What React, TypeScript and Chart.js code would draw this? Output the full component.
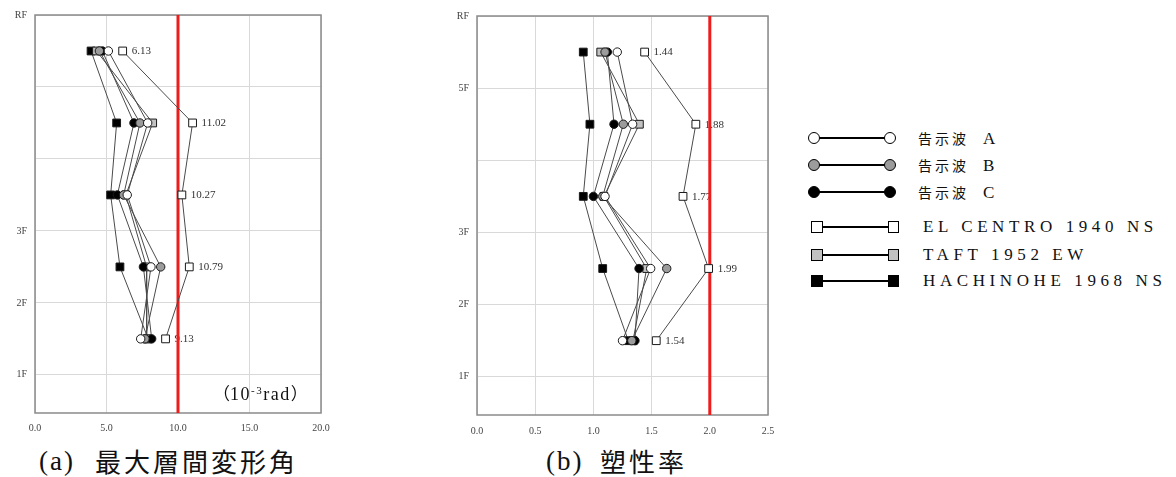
import React, { useEffect, useRef } from "react";
import { Chart, registerables } from "chart.js";

Chart.register(...registerables);

// ---------------- data ----------------
const SERIES_NAMES = [
  "告示波 A",
  "告示波 B",
  "告示波 C",
  "EL CENTRO 1940 NS",
  "TAFT 1952 EW",
  "HACHINOHE 1968 NS",
];

// story mid-heights (5F, 4F, 3F, 2F, 1F)
const STORY_Y = [5.5, 4.5, 3.5, 2.5, 1.5];

const FLOOR_TICKS = [1, 2, 3, 4, 5, 6];
const FLOOR_LABELS_A = ["1F", "2F", "3F", "", "", "RF"];
const FLOOR_LABELS_B = ["1F", "2F", "3F", "", "5F", "RF"];

// (a) max story drift angle (10^-3 rad)
const DRIFT_A = [5.13, 7.88, 6.45, 8.11, 7.39];
const DRIFT_B = [4.5, 7.34, 6.2, 8.79, 7.69];
const DRIFT_C = [4.71, 6.92, 5.76, 7.58, 8.16];
const DRIFT_ELCENTRO = [6.13, 11.02, 10.27, 10.79, 9.13];
const DRIFT_TAFT = [4.3, 8.23, 6.35, 7.8, 7.81];
const DRIFT_HACHINOHE = [3.92, 5.71, 5.29, 5.94, 7.92];
const DRIFT_X_TICKS = [0, 5, 10, 15, 20];
const DRIFT_LIMIT = 10;

// (b) ductility factor
const DUCT_A = [1.205, 1.337, 1.1, 1.492, 1.25];
const DUCT_B = [1.1, 1.257, 1.08, 1.63, 1.33];
const DUCT_C = [1.12, 1.177, 1.0, 1.392, 1.357];
const DUCT_ELCENTRO = [1.44, 1.88, 1.77, 1.99, 1.54];
const DUCT_TAFT = [1.063, 1.395, 1.09, 1.458, 1.34];
const DUCT_HACHINOHE = [0.913, 0.97, 0.913, 1.08, 1.3];
const DUCT_X_TICKS = [0, 0.5, 1.0, 1.5, 2.0, 2.5];
const DUCT_LIMIT = 2.0;

const LABELED_SERIES = 3; // EL CENTRO values are annotated

// ---------------- styles ----------------
const SERIES_STYLES = [
  { shape: "circle", fill: "#ffffff" },
  { shape: "circle", fill: "#9c9c9c" },
  { shape: "circle", fill: "#000000" },
  { shape: "rect", fill: "#ffffff" },
  { shape: "rect", fill: "#c2c2c2" },
  { shape: "rect", fill: "#000000" },
];

const SERIF = '"Liberation Serif", "Times New Roman", serif';
const CJK = '"Noto Sans CJK JP", "Noto Sans CJK SC", sans-serif';

type PanelProps = {
  series: number[][];
  xTicks: number[];
  yLabels: string[];
  limit: number;
  left: number;
  width: number;
  height: number;
  yAxisW: number;
  padTop: number;
  padRight: number;
  xAxisH: number;
  xPad: number;
};

const framePlugin = {
  id: "framePlugin",
  beforeDatasetsDraw(chart: any, _args: any, opts: any) {
    const { ctx, chartArea: a, scales } = chart;
    ctx.save();
    // frame
    ctx.strokeStyle = "#8a8a8a";
    ctx.lineWidth = 1.5;
    ctx.strokeRect(a.left, a.top, a.right - a.left, a.bottom - a.top);
    // value labels
    const ds = chart.data.datasets[opts.labelIdx];
    ctx.fillStyle = "#333";
    ctx.font = `11px ${SERIF}`;
    ctx.textAlign = "left";
    ctx.textBaseline = "middle";
    ds.data.forEach((p: any) => {
      const px = scales.x.getPixelForValue(p.x);
      const py = scales.y.getPixelForValue(p.y);
      ctx.fillText(p.x.toFixed(2), px + 9, py + 0.5);
    });
    // limit line
    const lx = scales.x.getPixelForValue(opts.limit);
    ctx.strokeStyle = "#ee1c1c";
    ctx.lineWidth = 3;
    ctx.beginPath();
    ctx.moveTo(lx, a.top);
    ctx.lineTo(lx, a.bottom);
    ctx.stroke();
    ctx.restore();
  },
};

function Panel(p: PanelProps) {
  const ref = useRef<HTMLCanvasElement | null>(null);
  useEffect(() => {
    if (!ref.current) return;
    const tickFont = { family: SERIF, size: 10 };
    const chart = new Chart(ref.current, {
      type: "scatter",
      data: {
        datasets: p.series.map((vals, k) => ({
          label: SERIES_NAMES[k],
          data: vals.map((v, i) => ({ x: v, y: STORY_Y[i] })),
          showLine: true,
          borderColor: "#4a4a4a",
          borderWidth: 1,
          tension: 0,
          pointStyle: SERIES_STYLES[k].shape as any,
          pointRadius: SERIES_STYLES[k].shape === "rect" ? 5.5 : 4.2,
          pointBackgroundColor: SERIES_STYLES[k].fill,
          pointBorderColor: "#1a1a1a",
          pointBorderWidth: 1,
        })),
      },
      options: {
        animation: false,
        responsive: false,
        events: [],
        layout: { padding: { top: p.padTop, right: p.padRight, left: 0, bottom: 0 } },
        plugins: {
          legend: { display: false },
          tooltip: { enabled: false },
          framePlugin: { limit: p.limit, labelIdx: LABELED_SERIES },
        } as any,
        scales: {
          x: {
            type: "linear",
            min: p.xTicks[0],
            max: p.xTicks[p.xTicks.length - 1],
            afterBuildTicks: (s: any) => {
              s.ticks = p.xTicks.map((v) => ({ value: v }));
            },
            afterFit: (s: any) => {
              s.height = p.xAxisH;
            },
            ticks: {
              autoSkip: false,
              maxRotation: 0,
              padding: p.xPad,
              font: tickFont,
              color: "#444",
              callback: (v: any) => Number(v).toFixed(1),
            },
            grid: { color: "#d9d9d9", lineWidth: 1, drawTicks: false },
            border: { display: false },
          },
          y: {
            type: "linear",
            min: 0.47,
            max: 6,
            afterBuildTicks: (s: any) => {
              s.ticks = FLOOR_TICKS.map((v) => ({ value: v }));
            },
            afterFit: (s: any) => {
              s.width = p.yAxisW;
            },
            ticks: {
              autoSkip: false,
              padding: 8,
              font: tickFont,
              color: "#444",
              callback: (v: any) => {
                const i = FLOOR_TICKS.indexOf(Number(v));
                return i >= 0 ? p.yLabels[i] : "";
              },
            },
            grid: { color: "#d9d9d9", lineWidth: 1, drawTicks: false },
            border: { display: false },
          },
        },
      },
      plugins: [framePlugin],
    } as any);
    return () => chart.destroy();
  }, []);
  return (
    <canvas
      ref={ref}
      width={p.width}
      height={p.height}
      style={{ position: "absolute", left: p.left, top: 0, width: p.width, height: p.height }}
    />
  );
}

const LEGEND_ROWS_Y = [138, 165, 192, 227, 255, 281];

function LegendRow({ k }: { k: number }) {
  const st = SERIES_STYLES[k];
  const cy = LEGEND_ROWS_Y[k];
  const isCircle = st.shape === "circle";
  const size = isCircle ? 12 : 11.5;
  const left = isCircle ? 808 : 811;
  const w = 88;
  const markStyle = (x: number): React.CSSProperties => ({
    position: "absolute",
    left: x,
    top: -size / 2,
    width: size,
    height: size,
    boxSizing: "border-box",
    border: "1.5px solid #000",
    borderRadius: isCircle ? "50%" : 0,
    background: st.fill,
  });
  const name = SERIES_NAMES[k];
  const parts = name.split(" ");
  return (
    <>
      <div style={{ position: "absolute", left, top: cy, width: w, height: 0 }}>
        <div
          style={{
            position: "absolute",
            left: size / 2,
            top: -1,
            width: w - size,
            height: 2,
            background: "#000",
          }}
        />
        <div style={markStyle(0)} />
        <div style={markStyle(w - size)} />
      </div>
      {isCircle ? (
        <div
          style={{
            position: "absolute",
            left: 918,
            top: cy - 10,
            height: 20,
            lineHeight: "20px",
            whiteSpace: "nowrap",
            color: "#111",
          }}
        >
          <span style={{ fontFamily: CJK, fontSize: 14, letterSpacing: 3 }}>{parts[0]}</span>
          <span style={{ fontFamily: SERIF, fontSize: 17, marginLeft: 14 }}>{parts[1]}</span>
        </div>
      ) : (
        <div
          style={{
            position: "absolute",
            left: 923,
            top: cy - 11,
            height: 22,
            lineHeight: "22px",
            whiteSpace: "nowrap",
            fontFamily: SERIF,
            fontSize: 17,
            letterSpacing: 4.6,
            color: "#111",
          }}
        >
          {name}
        </div>
      )}
    </>
  );
}

const captionSerif: React.CSSProperties = {
  position: "absolute",
  top: 445,
  lineHeight: "32px",
  whiteSpace: "nowrap",
  color: "#111",
  fontFamily: SERIF,
  fontSize: 27,
  letterSpacing: 2,
};
const captionCjk: React.CSSProperties = {
  position: "absolute",
  top: 445,
  lineHeight: "32px",
  whiteSpace: "nowrap",
  color: "#111",
  fontFamily: CJK,
  fontSize: 26,
  letterSpacing: 3,
};

export default function App() {
  const driftSeries = [DRIFT_A, DRIFT_B, DRIFT_C, DRIFT_ELCENTRO, DRIFT_TAFT, DRIFT_HACHINOHE];
  const ductSeries = [DUCT_A, DUCT_B, DUCT_C, DUCT_ELCENTRO, DUCT_TAFT, DUCT_HACHINOHE];
  return (
    <div
      style={{
        position: "absolute",
        left: 0,
        top: 0,
        width: 1176,
        height: 477,
        background: "#fff",
        overflow: "hidden",
      }}
    >
      <Panel
        series={driftSeries}
        xTicks={DRIFT_X_TICKS}
        yLabels={FLOOR_LABELS_A}
        limit={DRIFT_LIMIT}
        left={0}
        width={340}
        height={440}
        yAxisW={35}
        padTop={15}
        padRight={19}
        xAxisH={27}
        xPad={9}
      />
      <Panel
        series={ductSeries}
        xTicks={DUCT_X_TICKS}
        yLabels={FLOOR_LABELS_B}
        limit={DUCT_LIMIT}
        left={420}
        width={370}
        height={440}
        yAxisW={57}
        padTop={16}
        padRight={22}
        xAxisH={25}
        xPad={10}
      />
      {/* unit label */}
      <div
        style={{
          position: "absolute",
          left: 213,
          top: 382,
          fontFamily: SERIF,
          fontSize: 18,
          letterSpacing: 1.5,
          lineHeight: "22px",
          whiteSpace: "nowrap",
          color: "#111",
        }}
      >
        <span style={{ fontFamily: CJK, fontSize: 17, letterSpacing: 0 }}>（</span>
        10
        <span style={{ fontSize: 11, position: "relative", top: -6 }}>-3</span>
        rad
        <span style={{ fontFamily: CJK, fontSize: 17, letterSpacing: 0 }}>）</span>
      </div>
      {/* captions */}
      <div style={{ ...captionSerif, left: 39 }}>(a)</div>
      <div style={{ ...captionCjk, left: 95 }}>最大層間変形角</div>
      <div style={{ ...captionSerif, left: 546 }}>(b)</div>
      <div style={{ ...captionCjk, left: 600 }}>塑性率</div>
      {SERIES_NAMES.map((_, k) => (
        <LegendRow key={k} k={k} />
      ))}
    </div>
  );
}
